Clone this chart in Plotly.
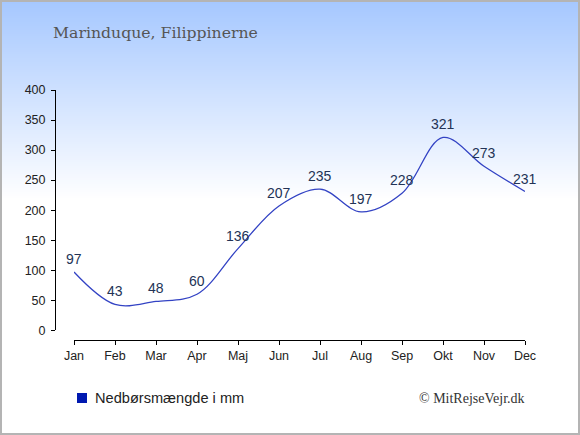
import plotly.graph_objects as go

months = ["Jan", "Feb", "Mar", "Apr", "Maj", "Jun", "Jul", "Aug", "Sep", "Okt", "Nov", "Dec"]
precip = [97, 43, 48, 60, 136, 207, 235, 197, 228, 321, 273, 231]
y_ticks = [0, 50, 100, 150, 200, 250, 300, 350, 400]

title_text = "Marinduque, Filippinerne"
legend_text = "Nedbørsmængde i mm"
credit_text = "© MitRejseVejr.dk"

W, H = 580, 435
L, R, T, B = 55, 525, 90, 340


def px(x):
    return (x - L) / (R - L)


def py(y):
    return (B - y) / (B - T)


fig = go.Figure()
fig.add_trace(go.Scatter(
    x=months, y=precip, mode="lines",
    line=dict(color="#3343c4", width=1.3, shape="spline", smoothing=1),
    cliponaxis=False, showlegend=False, hoverinfo="skip",
))

shapes = []
# background gradient
n = 100
gh = 200
for i in range(n):
    f = i / (n - 1)
    r = int(166 + (255 - 166) * f)
    g = int(200 + (255 - 200) * f)
    b = 255
    y0 = i * gh / n
    y1 = (i + 1) * gh / n + 0.5
    shapes.append(dict(type="rect", xref="paper", yref="paper",
                       x0=px(0), x1=px(W), y0=py(y1), y1=py(y0),
                       line=dict(width=0), fillcolor=f"rgb({r},{g},{b})", layer="below"))
# border
shapes.append(dict(type="rect", xref="paper", yref="paper",
                   x0=px(1), x1=px(W - 1), y0=py(H - 1), y1=py(1),
                   line=dict(color="#b4b4b4", width=2), fillcolor="rgba(0,0,0,0)", layer="above"))
# legend square
shapes.append(dict(type="rect", xref="paper", yref="paper",
                   x0=px(77), x1=px(87), y0=py(403), y1=py(393),
                   line=dict(width=0), fillcolor="#0019b0"))

annotations = [
    dict(text=title_text, xref="paper", yref="paper", x=px(51), y=py(32),
         xanchor="left", yanchor="middle", showarrow=False,
         font=dict(family="DejaVu Serif", size=15.7, color="#555555")),
    dict(text=legend_text, xref="paper", yref="paper", x=px(93), y=py(398),
         xanchor="left", yanchor="middle", showarrow=False,
         font=dict(family="Liberation Sans, Arial", size=14.6, color="#222222")),
    dict(text=credit_text, xref="paper", yref="paper", x=px(527), y=py(398),
         xanchor="right", yanchor="middle", showarrow=False,
         font=dict(family="Liberation Serif", size=14, color="#333333")),
]
for m, v in zip(months, precip):
    annotations.append(dict(text=str(v), x=m, y=v, xref="x", yref="y",
                            showarrow=False, yshift=13, yanchor="middle",
                            font=dict(family="Liberation Sans, Arial", size=14, color="#233356")))

fig.update_layout(
    width=W, height=H,
    margin=dict(l=L, r=W - R, t=T, b=H - B, pad=0),
    paper_bgcolor="white", plot_bgcolor="rgba(0,0,0,0)",
    shapes=shapes, annotations=annotations,
    xaxis=dict(domain=[px(74), 1], anchor="free", position=0,
               range=[0, 11], showline=True, linecolor="black", linewidth=1,
               ticks="outside", ticklen=4, tickcolor="black",
               showgrid=False, zeroline=False, fixedrange=True,
               tickfont=dict(family="Liberation Sans, Arial", size=12.5, color="#222222")),
    yaxis=dict(domain=[py(330.3), 1], anchor="free", position=0,
               range=[0, 400], tickvals=y_ticks, showline=True, linecolor="black", linewidth=1,
               ticks="outside", ticklen=4, tickcolor="black", ticklabelstandoff=3,
               showgrid=False, zeroline=False, fixedrange=True,
               tickfont=dict(family="Liberation Sans, Arial", size=12.5, color="#222222")),
    showlegend=False,
)

fig.write_html("out.html", config={"displayModeBar": False},
               post_script="document.body.style.margin='0';document.body.style.padding='0';")
